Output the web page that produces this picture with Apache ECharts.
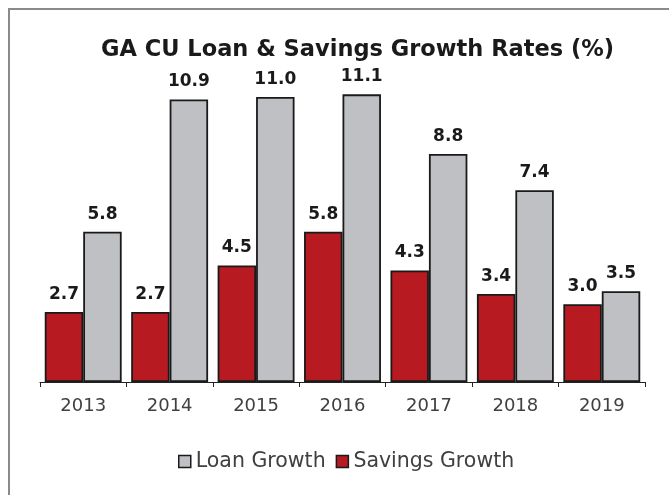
<!DOCTYPE html>
<html><head><meta charset="utf-8">
<script src="https://cdn.jsdelivr.net/npm/echarts@6/dist/echarts.min.js"></script>
<style>html,body{margin:0;padding:0;background:#fff}#c{width:669px;height:495px}</style>
</head><body><div id="c"></div>
<script>
const categories = ['2013','2014','2015','2016','2017','2018','2019'];
const savingsGrowth = [2.7, 2.7, 4.5, 5.8, 4.3, 3.4, 3.0];
const loanGrowth = [5.8, 10.9, 11.0, 11.1, 8.8, 7.4, 3.5];
const FONT = '"DejaVu Sans", sans-serif';
const chart = echarts.init(document.getElementById('c'));
const lbl = {show:true, position:'top', distance:9, fontFamily:FONT, fontWeight:'bold', fontSize:17, color:'#1a1a1a', formatter: p => p.value.toFixed(1)};
chart.setOption({
  animation:false,
  graphic:[{type:'rect', shape:{x:9, y:9, width:700, height:520}, style:{fill:'none', stroke:'#8a8a8a', lineWidth:2}}],
  title:{text:'GA CU Loan & Savings Growth Rates (%)', left:96, top:34,
    textStyle:{fontFamily:FONT, fontWeight:'bold', fontSize:22.5, color:'#1a1a1a'}},
  legend:{data:['Loan Growth','Savings Growth'], bottom:18, left:173, icon:'rect', itemWidth:12, itemHeight:12, itemGap:10,
    itemStyle:{borderColor:'#1a1a1a', borderWidth:1.5},
    textStyle:{fontFamily:FONT, fontSize:20.5, color:'#404040'}},
  grid:{left:40, right:24, top:71, bottom:113},
  xAxis:{type:'category', data:categories,
    axisLine:{lineStyle:{color:'#222', width:1}},
    axisTick:{show:true, inside:false, length:5, lineStyle:{color:'#222'}},
    axisLabel:{fontFamily:FONT, fontSize:18, color:'#404040', margin:15}},
  yAxis:{type:'value', min:0, max:12, show:false, splitLine:{show:false}},
  series:[
    {name:'Savings Growth', type:'bar', data:savingsGrowth, barGap:'0%', barCategoryGap:'11%',
      itemStyle:{color:'#B71A20', borderColor:'#1a1a1a', borderWidth:1.8}, label:lbl},
    {name:'Loan Growth', type:'bar', data:loanGrowth,
      itemStyle:{color:'#BEC0C3', borderColor:'#1a1a1a', borderWidth:1.8}, label:lbl}
  ]
});
</script></body></html>
